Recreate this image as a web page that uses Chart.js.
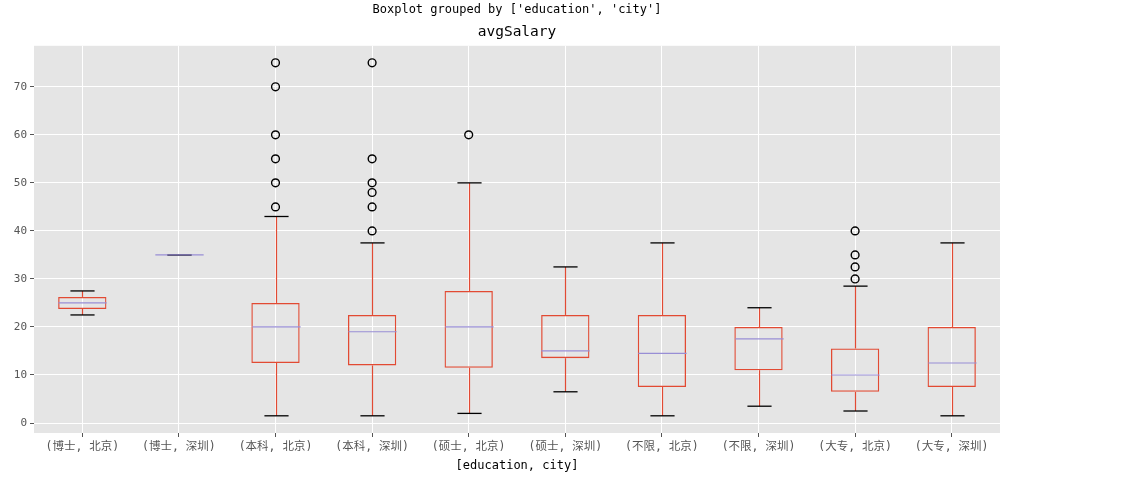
<!DOCTYPE html>
<html>
<head>
<meta charset="utf-8">
<script src="https://cdn.jsdelivr.net/npm/chart.js@4.4.1/dist/chart.umd.min.js"></script>
<style>
  html, body { margin: 0; padding: 0; background: #fff; }
  #wrap { width: 1147px; height: 477px; }
</style>
</head>
<body>
<div id="wrap"><canvas id="chart"></canvas></div>
<script>
// box stats
const categories = ['(博士, 北京)', '(博士, 深圳)', '(本科, 北京)', '(本科, 深圳)', '(硕士, 北京)',
                    '(硕士, 深圳)', '(不限, 北京)', '(不限, 深圳)', '(大专, 北京)', '(大专, 深圳)'];
const whiskerLow  = [22.5, 35, 1.5, 1.5, 2, 6.5, 1.5, 3.5, 2.5, 1.5];
const q1          = [23.75, 35, 12.5, 12, 11.5, 13.5, 7.5, 11, 6.5, 7.5];
const medians     = [25, 35, 20, 19, 20, 15, 14.5, 17.5, 10, 12.5];
const q3          = [26.25, 35, 25, 22.5, 27.5, 22.5, 22.5, 20, 15.5, 20];
const whiskerHigh = [27.5, 35, 43, 37.5, 50, 32.5, 37.5, 24, 28.5, 37.5];
const outliers    = [[], [], [45, 50, 55, 60, 70, 75], [40, 45, 48, 50, 55, 75], [60], [], [], [], [30, 32.5, 35, 40], []];
const yTicks = [0, 10, 20, 30, 40, 50, 60, 70];

const MONO = "'DejaVu Sans Mono', 'Noto Sans CJK SC', monospace";

const boxColor = '#E24A33';
const medianColor = '#988ED5';

const outlierPoints = [];
outliers.forEach((list, i) => list.forEach(v => outlierPoints.push({ x: categories[i], y: v })));

// grey panel behind the plot
const panelBg = {
    id: 'panelBg',
    beforeDraw(chart) {
        const { ctx, chartArea: a } = chart;
        ctx.save();
        ctx.fillStyle = '#E5E5E5';
        ctx.fillRect(a.left, a.top, a.right - a.left, a.bottom - a.top);
        ctx.restore();
    }
};

// whiskers, caps and medians, placed with the chart's scales
const boxParts = {
    id: 'boxParts',
    afterDatasetsDraw(chart) {
        const { ctx, scales: { x, y } } = chart;
        const boxW = x.width / categories.length * 0.5;
        const capW = boxW * 0.5;
        ctx.save();
        categories.forEach((c, i) => {
            const cx = Math.round(x.getPixelForValue(i)) + 0.5;
            const line = (x1, y1, x2, y2, color, w) => {
                ctx.strokeStyle = color;
                ctx.lineWidth = w;
                ctx.beginPath();
                ctx.moveTo(x1, y1);
                ctx.lineTo(x2, y2);
                ctx.stroke();
            };
            line(cx, y.getPixelForValue(q3[i]), cx, y.getPixelForValue(whiskerHigh[i]), boxColor, 1.2);
            line(cx, y.getPixelForValue(q1[i]), cx, y.getPixelForValue(whiskerLow[i]), boxColor, 1.2);
            const yh = y.getPixelForValue(whiskerHigh[i]);
            const yl = y.getPixelForValue(whiskerLow[i]);
            line(cx - capW / 2, yh, cx + capW / 2, yh, '#000', 1.3);
            line(cx - capW / 2, yl, cx + capW / 2, yl, '#000', 1.3);
            const ym = y.getPixelForValue(medians[i]);
            line(cx - boxW / 2, ym, cx + boxW / 2, ym, medianColor, 1.2);
        });
        ctx.restore();
    }
};

new Chart(document.getElementById('chart'), {
    type: 'bar',
    data: {
        labels: categories,
        datasets: [
            {
                label: 'box',
                data: q1.map((v, i) => [v, q3[i]]),
                backgroundColor: 'rgba(0,0,0,0)',
                borderColor: boxColor,
                borderWidth: 1.3,
                borderSkipped: false,
                barPercentage: 0.5,
                categoryPercentage: 1,
                order: 2
            },
            {
                type: 'line',
                label: 'outliers',
                data: outlierPoints,
                showLine: false,
                pointRadius: 3.9,
                pointBorderWidth: 1.4,
                pointBorderColor: '#000',
                pointBackgroundColor: 'rgba(0,0,0,0)',
                order: 1
            }
        ]
    },
    options: {
        responsive: true,
        maintainAspectRatio: false,
        animation: false,
        layout: { padding: { left: 0, right: 147, top: 0, bottom: 0 } },
        plugins: {
            legend: { display: false },
            tooltip: { enabled: false },
            title: {
                display: true,
                text: "Boxplot grouped by ['education', 'city']",
                color: '#000',
                fullSize: false,
                font: { family: MONO, size: 12, weight: 'normal' },
                padding: { top: 3, bottom: 0 }
            },
            subtitle: {
                display: true,
                text: 'avgSalary',
                color: '#000',
                fullSize: false,
                font: { family: MONO, size: 14.5, weight: 'normal' },
                padding: { top: 6, bottom: 5 }
            }
        },
        scales: {
            x: {
                type: 'category',
                grid: {
                    offset: false,
                    color: '#FFFFFF',
                    lineWidth: 1,
                    tickColor: '#555555',
                    tickLength: 4
                },
                border: { display: false },
                ticks: {
                    color: '#555555',
                    font: { family: MONO, size: 11.5 },
                    maxRotation: 0,
                    autoSkip: false,
                    padding: 3
                },
                title: {
                    display: true,
                    text: '[education, city]',
                    color: '#000',
                    font: { family: MONO, size: 12 },
                    padding: { top: 4, bottom: 4 }
                },
                afterFit(scale) { scale.height = 44; }
            },
            y: {
                type: 'linear',
                min: -2.08,
                max: 78.54,
                grid: {
                    color: '#FFFFFF',
                    lineWidth: 1,
                    tickColor: '#555555',
                    tickLength: 4
                },
                border: { display: false },
                ticks: {
                    color: '#555555',
                    font: { family: MONO, size: 11 },
                    padding: 3
                },
                afterBuildTicks(scale) { scale.ticks = yTicks.map(v => ({ value: v })); },
                afterFit(scale) { scale.width = 34; }
            }
        }
    },
    plugins: [panelBg, boxParts]
});
</script>
</body>
</html>
